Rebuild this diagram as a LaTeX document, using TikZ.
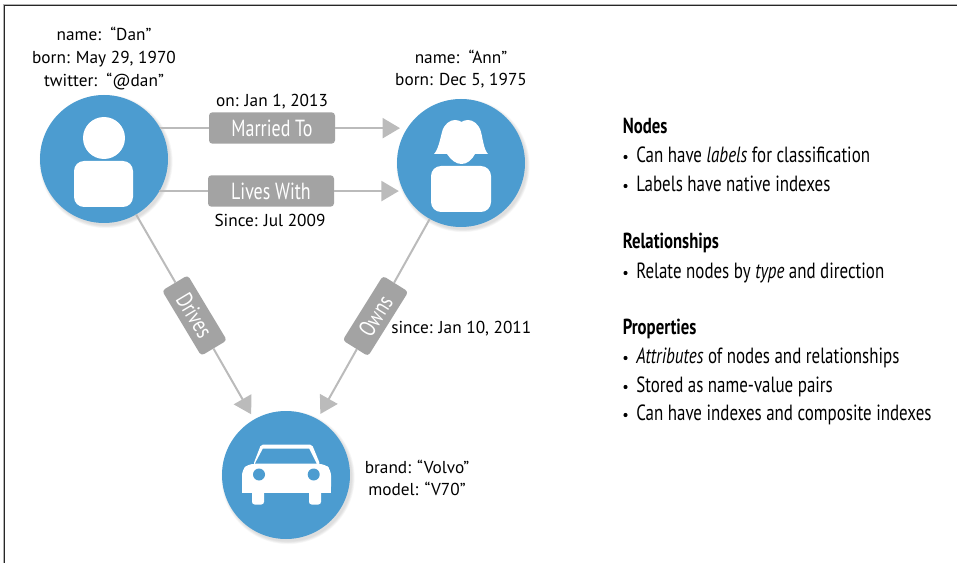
\documentclass[tikz,border=0pt]{standalone}
\usepackage{fontspec}
\usetikzlibrary{arrows.meta}
\setmainfont{PT Sans}
\newfontfamily\condf[FakeStretch=0.77]{PT Sans}
\definecolor{nodeblue}{HTML}{4C9CD0}
\definecolor{boxgrey}{HTML}{A3A3A3}
\definecolor{linegrey}{HTML}{BBBBBB}
\tikzset{
  entity/.style={circle,fill=nodeblue,minimum size=96pt,inner sep=0pt,outer sep=0pt},
  link/.style={draw=linegrey,line width=1.5pt},
  arrowlink/.style={link,-{Triangle[length=13pt,width=15pt,color=linegrey]}},
  relbox/.style={fill=boxgrey,rounded corners=2.5pt,text=white,inner sep=0pt,outer sep=0pt,
    minimum width=94.5pt,minimum height=23.5pt,font=\condf\fontsize{17.5}{20}\selectfont},
  prop/.style={align=center,text=black,inner sep=0pt,font=\fontsize{12.95}{16.9}\selectfont},
  head/.style={anchor=base west,inner sep=0pt,font=\condf\bfseries\fontsize{16.3}{18}\selectfont},
  item/.style={anchor=base west,inner sep=0pt,font=\condf\fontsize{16.5}{18}\selectfont},
  dotmark/.style={circle,fill=black,inner sep=0pt,minimum size=3.1pt},
  glyph/.style={fill=white},
  shadowc/.style={circle,fill=black,fill opacity=.028,minimum size=#1,inner sep=0pt}
}
\begin{document}
\begin{tikzpicture}[x=0.75pt,y=-0.75pt]
\useasboundingbox (0,0) rectangle (957,563);
% frame
\coordinate (gtr) at (957,4.3); \coordinate (gtl) at (3.3,4.3); \coordinate (gbl) at (3.3,563);
\coordinate (ftr) at (957,5.4); \coordinate (ftl) at (4.5,5.4); \coordinate (fbl) at (4.5,563);
\draw[line width=.8pt,draw=black!30] (gtr) -- (gtl) -- (gbl);
\draw[line width=.85pt,draw=black!85] (ftr) -- (ftl) -- (fbl);
% shadows
\foreach \cx/\cy in {104/159,461/163,286/475}{
  \foreach \s in {96,97,98,99,100}{
    \node[shadowc=\s pt] at (\cx+2,\cy+2.5) {};
  }
}
% nodes
\node[entity] (dan) at (104,159) {};
\node[entity] (ann) at (461,163) {};
\node[entity] (car) at (286,475) {};
% relationship boxes
\node[relbox] (married) at (272,128) {Married To};
\node[relbox] (lives) at (271,191) {Lives With};
\node[relbox,rotate=-59,minimum width=57pt,minimum height=22.5pt] (drives) at (194.5,315.5) {Drives};
\node[relbox,rotate=58,minimum width=57pt,minimum height=22.5pt] (owns) at (375.5,316) {Owns};
% connectors
\draw[link] (dan.29) -- (married.west |- dan.29);
\draw[arrowlink,shorten >=5.5pt] (married.east |- ann.147) -- (ann.147);
\draw[link] (dan.-30) -- (lives.west |- dan.-30);
\draw[arrowlink,shorten >=3.5pt] (lives.east |- ann.-154) -- (ann.-154);
\draw[link] (dan) -- (drives);
\draw[arrowlink,shorten >=4.5pt] (drives) -- (car);
\draw[link] (ann) -- (owns);
\draw[arrowlink,shorten >=4.5pt] (owns) -- (car);
% Dan icon
\fill[glyph] (104,138) circle (15.75pt);
\fill[glyph,rounded corners=7.5pt] (74,161) rectangle (133,207);
% Ann icon
\fill[glyph,rounded corners=7.5pt] (431,166) rectangle (491,212);
\fill[glyph] (434,154)
  .. controls (438,150) and (440,140) .. (442,132)
  .. controls (444,124) and (450,120) .. (455,120)
  .. controls (458,120) and (460,121) .. (461.5,122)
  .. controls (463,121) and (465,120) .. (468,120)
  .. controls (473,120) and (479,124) .. (481,132)
  .. controls (483,140) and (484,150) .. (488,154)
  -- (475,154)
  .. controls (472,160) and (467,164) .. (461.5,164)
  .. controls (456,164) and (451,160) .. (447,154) -- cycle;
% car icon
\fill[glyph,rounded corners=1.5pt] (253.5,464) -- (261,444.5) -- (312,444.5) -- (320,464) -- (318,470) -- (256,470) -- cycle;
\fill[glyph,rounded corners=4pt] (242,492) -- (242,470) -- (248,464) -- (325,464) -- (331,470) -- (331,492) -- cycle;
\fill[glyph] (242,480) rectangle (331,492.5);
\fill[glyph,rounded corners=2pt] (252,488) rectangle (264,504.5);
\fill[glyph,rounded corners=2pt] (309,488) rectangle (321,504.5);
\fill[nodeblue] (263,448.5) -- (309,448.5) -- (316.5,463.5) -- (255,463.5) -- cycle;
\fill[nodeblue] (259,474.5) circle (4.5pt);
\fill[nodeblue] (313.7,474.5) circle (4.5pt);
% property text
\node[prop] (danprops) at (104,58.5) {name:\ \ “Dan”\\born: May 29, 1970\\twitter:\ \ “@dan”};
\node[prop] (annprops) at (461,69) {name:\ \ “Ann”\\born: Dec 5, 1975};
\node[prop] (carprops) at (417,478) {brand: “Volvo”\\model: “V70”};
\node[prop,anchor=base] (onlabel) at (272,107) {on: Jan 1, 2013};
\node[prop,anchor=base] (sincelabel) at (270,227) {Since: Jul 2009};
\node[prop,anchor=base west] (ownslabel) at (391,333) {since: Jan 10, 2011};
% legend
\node[head] (h1) at (622.5,134) {Nodes};
\node[dotmark] (b1) at (625.5,157) {};
\node[item] (t1) at (636,163) {Can have \textit{labels} for classification};
\node[dotmark] (b2) at (625.5,186) {};
\node[item] (t2) at (636,192) {Labels have native indexes};
\node[head] (h2) at (622.5,248) {Relationships};
\node[dotmark] (b3) at (625.5,273) {};
\node[item] (t3) at (636,278) {Relate nodes by \textit{type} and direction};
\node[head] (h3) at (622.5,334) {Properties};
\node[dotmark] (b4) at (625.5,358) {};
\node[item] (t4) at (636,363) {\textit{Attributes} of nodes and relationships};
\node[dotmark] (b5) at (625.5,387) {};
\node[item] (t5) at (636,392) {Stored as name-value pairs};
\node[dotmark] (b6) at (625.5,415) {};
\node[item] (t6) at (636,420) {Can have indexes and composite indexes};
\end{tikzpicture}
\end{document}
